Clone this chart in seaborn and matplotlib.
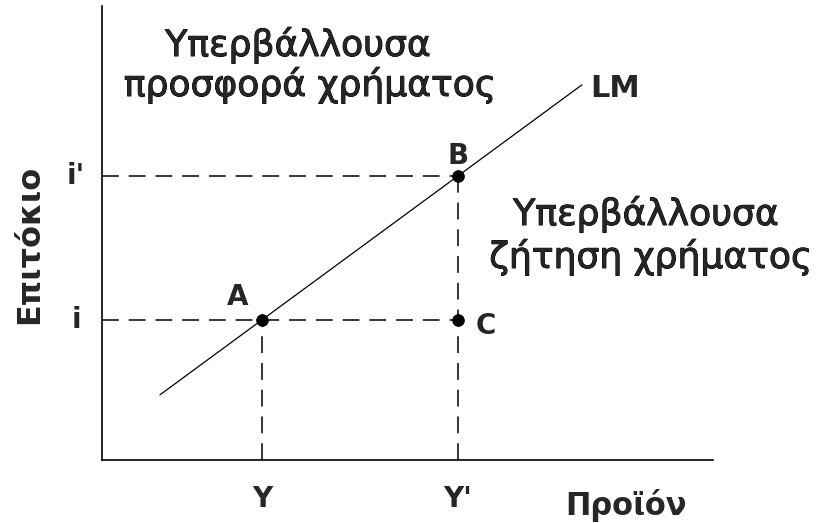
import matplotlib
matplotlib.use("Agg")
import matplotlib.pyplot as plt
import matplotlib.patheffects as pe
import seaborn as sns
import pandas as pd

sns.set_theme(style="white")
plt.rcParams['font.family'] = ['DejaVu Sans']

# values (abstract units)
out_levels = [4.0, 8.9]          # Y, Y'
rate_levels = [3.5, 7.1]         # i, i'
point_names = ["A", "B", "C"]
point_x = [4.0, 8.9, 8.9]
point_y = [3.5, 7.1, 3.5]
lm_x = [1.45, 12.0]
lm_y = [1.63, 9.38]

x_ticks = ["Y", "Y'"]
y_ticks = ["i", "i'"]

fig = plt.figure(figsize=(8.18, 5.23), dpi=100)
ax = fig.add_axes([102 / 818, 63 / 523, 611 / 818, 454 / 523])
ax.set_xlim(0, 611 / 40)
ax.set_ylim(0, 454 / 40)

# dashed guides
dash = dict(color="black", lw=1.1, dashes=(11, 6.5))
ax.plot([0, point_x[2]], [rate_levels[0]] * 2, **dash)
ax.plot([0, point_x[1]], [rate_levels[1]] * 2, **dash)
ax.plot([out_levels[0]] * 2, [0, point_y[0]], **dash)
ax.plot([out_levels[1]] * 2, [0, point_y[1]], **dash)

# LM curve
sns.lineplot(x=lm_x, y=lm_y, ax=ax, color="black", lw=0.9)

pts = pd.DataFrame({"x": point_x, "y": point_y, "name": point_names})
sns.scatterplot(data=pts, x="x", y="y", ax=ax, color="black", s=70,
                edgecolor="black", zorder=5)

for s in ["top", "right"]:
    ax.spines[s].set_visible(False)
for s in ["left", "bottom"]:
    ax.spines[s].set_color("black")
    ax.spines[s].set_linewidth(1.2)
ax.set_xticks([])
ax.set_yticks([])
ax.set_xlabel("")
ax.set_ylabel("")

thick = [pe.withStroke(linewidth=0.7, foreground="black")]
big = 26
ax.text(4.9, 10.1, "Υπερβάλλουσα", fontsize=big, ha="center", va="baseline",
        path_effects=thick)
ax.text(5.2, 9.1, "προσφορά χρήματος", fontsize=big, ha="center", va="baseline",
        path_effects=thick)
ax.text(13.6, 5.875, "Υπερβάλλουσα", fontsize=big, ha="center", va="baseline",
        path_effects=thick)
ax.text(13.72, 4.8, "ζήτηση χρήματος", fontsize=big, ha="center", va="baseline",
        path_effects=thick)

ax.text(12.2, 9.07, "LM", fontsize=22, fontweight="bold", va="baseline")
ax.text(8.9, 7.4, "B", fontsize=20, fontweight="bold", ha="center", va="baseline")
ax.text(3.38, 3.88, "A", fontsize=20, fontweight="bold", ha="center", va="baseline")
ax.text(9.35, 3.15, "C", fontsize=20, fontweight="bold", ha="left", va="baseline")

for xv, lab in zip(out_levels, x_ticks):
    ax.text(xv, -1.18, lab, fontsize=20, fontweight="bold", ha="center",
            va="baseline", clip_on=False)
for yv, lab in zip(rate_levels, y_ticks):
    ax.text(-0.65, yv, lab, fontsize=20, fontweight="bold", ha="center",
            va="center", clip_on=False)

ax.text(13.1, -1.37, "Προϊόν", fontsize=22, fontweight="bold", ha="center",
        va="baseline", clip_on=False)
ax.text(-1.8, 5.4, "Επιτόκιο", fontsize=23, fontweight="bold", ha="center",
        va="center", rotation=90, clip_on=False)

fig.savefig("out.png", dpi=100)
